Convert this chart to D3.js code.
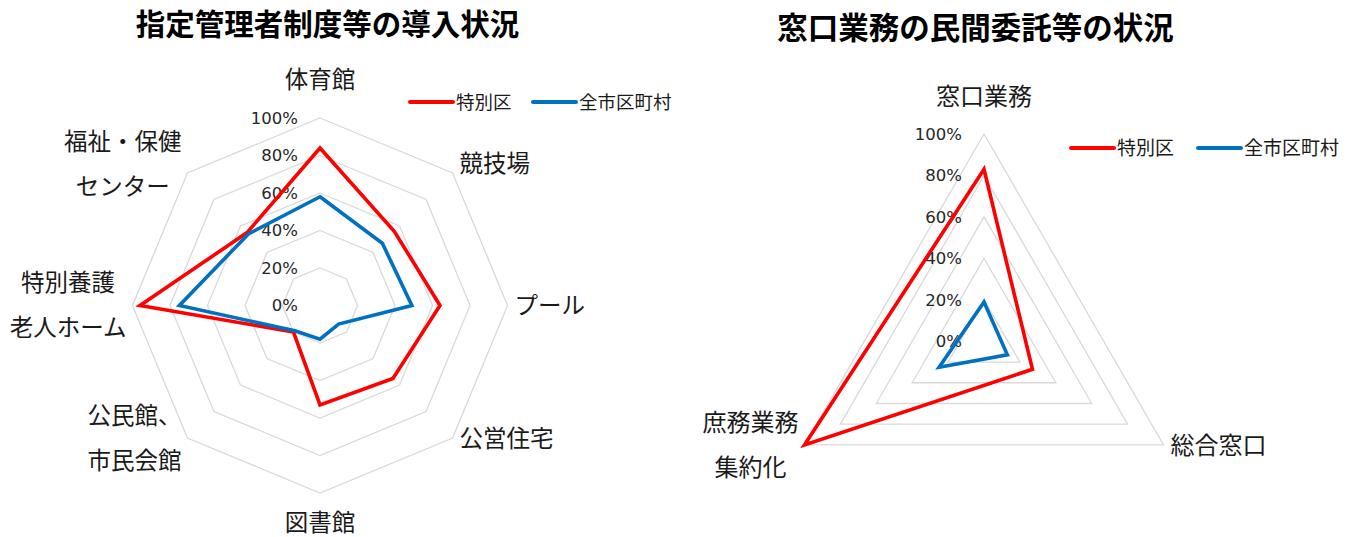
<!DOCTYPE html>
<html>
<head>
<meta charset="utf-8">
<script src="https://cdn.jsdelivr.net/npm/d3@7"></script>
<style>
  body { margin: 0; background: #fff; }
  svg { display: block; }
</style>
</head>
<body>
<div class="chart"></div>
<script>
// data
var seriesNames = ["特別区", "全市区町村"];
var tickValues = [0, 0.2, 0.4, 0.6, 0.8, 1.0];

var leftTitle = "指定管理者制度等の導入状況";
var leftCategories = [["体育館"], ["競技場"], ["プール"], ["公営住宅"], ["図書館"],
                      ["公民館、", "市民会館"], ["特別養護", "老人ホーム"], ["福祉・保健", "センター"]];
var leftTokubetsu = [0.84, 0.56, 0.64, 0.55, 0.53, 0.20, 0.96, 0.55];
var leftZenshichoson = [0.58, 0.47, 0.49, 0.14, 0.18, 0.19, 0.75, 0.54];

var rightTitle = "窓口業務の民間委託等の状況";
var rightCategories = [["窓口業務"], ["総合窓口"], ["庶務業務", "集約化"]];
var rightTokubetsu = [0.83, 0.27, 1.00];
var rightZenshichoson = [0.19, 0.13, 0.25];

var colors = ["#ff0000", "#0070c0"];
var jp = "'Noto Sans CJK JP', 'Noto Sans', sans-serif";

var svg = d3.select(".chart")
            .append("svg")
            .attr("width", 1360)
            .attr("height", 537);

function radar(o) {
    var n = o.categories.length;
    var r = d3.scaleLinear().domain([0, 1]).range([0, o.radius]);
    var angle = d3.scaleLinear().domain([0, n]).range([0, 2 * Math.PI]);
    var g = svg.append("g").attr("transform", "translate(" + o.cx + "," + o.cy + ")");

    // title
    svg.append("text")
       .attr("x", o.titleX).attr("y", o.titleY)
       .attr("text-anchor", "middle")
       .attr("dy", "0.35em")
       .style("font-family", jp)
       .style("font-weight", "bold")
       .style("font-size", o.titleSize + "px")
       .attr("fill", "#000")
       .text(o.title);

    // grid rings
    var ring = d3.lineRadial()
                 .angle(function(d, i) { return angle(i) })
                 .radius(function(d) { return r(d) })
                 .curve(d3.curveLinearClosed);
    g.selectAll(".ring")
     .data(tickValues.filter(function(v) { return v > 0 }))
     .enter().append("path")
     .attr("class", "ring")
     .attr("d", function(v) { return ring(d3.range(n).map(function() { return v })) })
     .attr("fill", "none")
     .attr("stroke", "#d9d9d9")
     .attr("stroke-width", 1.3);

    // tick labels
    g.selectAll(".tick")
     .data(tickValues)
     .enter().append("text")
     .attr("x", -22)
     .attr("y", function(v) { return -r(v) })
     .attr("dy", "0.36em")
     .attr("text-anchor", "end")
     .style("font-family", "'DejaVu Sans', sans-serif")
     .style("font-size", "16.5px")
     .attr("fill", "#262626")
     .text(function(v) { return d3.format(".0%")(v) });

    // series
    o.series.forEach(function(vals, k) {
        g.append("path")
         .attr("d", ring(vals))
         .attr("fill", "none")
         .attr("stroke", colors[k])
         .attr("stroke-width", 3.6)
         .attr("stroke-linejoin", "miter");
    });

    // category labels
    o.categories.forEach(function(lines, i) {
        var a = angle(i);
        var vx = Math.sin(a) * o.radius, vy = -Math.cos(a) * o.radius;
        var s = Math.sin(a), c = Math.cos(a);
        var lg = g.append("g");
        var t = lg.selectAll("text").data(lines).enter().append("text")
                  .attr("text-anchor", "middle")
                  .attr("dy", "0.36em")
                  .attr("y", function(d, j) { return (j - (lines.length - 1) / 2) * 45 })
                  .style("font-family", jp)
                  .style("font-size", o.labelSize + "px")
                  .attr("fill", "#1a1a1a")
                  .text(function(d) { return d });
        var w = d3.max(t.nodes(), function(el) { return el.getComputedTextLength() });
        var x, y;
        if (Math.abs(s) < 0.1) {
            x = vx;
            y = c > 0 ? vy - 38 : vy + 30;
        } else {
            x = s > 0 ? vx + 7 + w / 2 : vx - 6 - w / 2;
            y = vy + (c > 0.1 ? -9 : 0);
        }
        lg.attr("transform", "translate(" + x + "," + y + ")");
    });

    // legend
    var lgd = svg.append("g").attr("transform", "translate(" + o.legendX + "," + o.legendY + ")");
    var offs = [0, o.legendGap];
    seriesNames.forEach(function(name, k) {
        lgd.append("line")
           .attr("x1", offs[k]).attr("x2", offs[k] + 43)
           .attr("y1", 0).attr("y2", 0)
           .attr("stroke", colors[k])
           .attr("stroke-width", 4)
           .attr("stroke-linecap", "round");
        lgd.append("text")
           .attr("x", offs[k] + 46).attr("y", 0)
           .attr("dy", "0.36em")
           .style("font-family", jp)
           .style("font-size", o.legendSize + "px")
           .attr("fill", "#1a1a1a")
           .text(name);
    });
}

radar({
    title: leftTitle, titleX: 327.5, titleY: 25, titleSize: 29.5,
    categories: leftCategories,
    series: [leftTokubetsu, leftZenshichoson],
    cx: 320, cy: 305.5, radius: 187.5, labelSize: 23.5,
    legendX: 410, legendY: 102, legendGap: 123, legendSize: 18.5
});

radar({
    title: rightTitle, titleX: 975.5, titleY: 28, titleSize: 30.5,
    categories: rightCategories,
    series: [rightTokubetsu, rightZenshichoson],
    cx: 984, cy: 341.3, radius: 207.3, labelSize: 24,
    legendX: 1071, legendY: 148, legendGap: 127, legendSize: 19
});
</script>
</body>
</html>
